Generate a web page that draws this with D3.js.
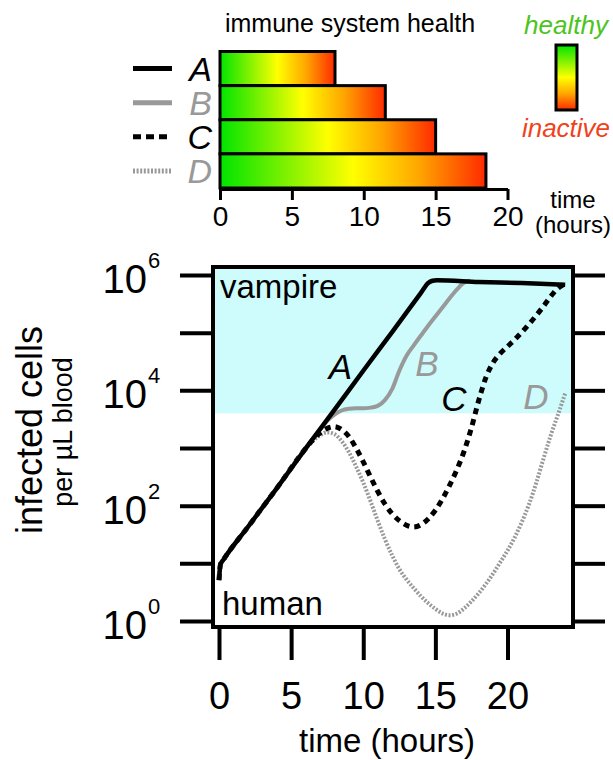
<!DOCTYPE html>
<html>
<head>
<meta charset="utf-8">
<script src="https://cdn.jsdelivr.net/npm/d3@7"></script>
<style>
  body { margin: 0; background: #fff; }
  svg text { font-family: "Liberation Sans", Arial, sans-serif; }
</style>
</head>
<body>
<div id="chart"></div>
<script>
// top panel: how long the immune system stays healthy
var barSeries = ["A", "B", "C", "D"];
var healthyHours = [8, 11.5, 15, 18.5];
var barTicks = [0, 5, 10, 15, 20];

// bottom panel: infected cells (log10 of cells per uL) over time
var timeTicks = [0, 5, 10, 15, 20];
var cellExps = [0, 1, 2, 3, 4, 5, 6];
var vampireLevel = 4000;

var timeA = [0, 0.1, 0.3, 2, 4, 6, 8, 10, 12, 14, 14.5, 14.8, 15.1, 18, 21, 24];
var logA  = [0.71, 0.98, 1.06, 1.63, 2.3, 2.99, 3.66, 4.34, 5.01, 5.69, 5.86, 5.9, 5.91, 5.88, 5.86, 5.83];

var timeB = [0, 0.1, 0.3, 2, 4, 6, 7, 7.5, 8, 8.5, 9, 9.5, 10, 10.5, 11, 11.5, 12, 12.5, 13, 13.5, 14, 14.5, 15, 15.5, 16, 16.5, 17, 17.4];
var logB  = [0.71, 0.98, 1.06, 1.63, 2.3, 2.99, 3.32, 3.47, 3.58, 3.65, 3.68, 3.69, 3.69, 3.7, 3.73, 3.83, 4.02, 4.34, 4.6, 4.78, 4.95, 5.12, 5.28, 5.44, 5.6, 5.75, 5.87, 5.9];

var timeC = [0, 0.1, 0.3, 2, 4, 6, 6.5, 7, 7.5, 8, 8.5, 9, 9.5, 10, 10.5, 11, 11.5, 12, 12.5, 13, 13.5, 14, 14.5, 15, 15.5, 16, 16.5, 17, 17.5, 18, 18.5, 19, 19.5, 20, 20.5, 21, 21.5, 22, 22.5, 23, 23.5, 24];
var logC  = [0.71, 0.98, 1.06, 1.63, 2.3, 2.99, 3.14, 3.26, 3.34, 3.37, 3.32, 3.2, 3.0, 2.76, 2.5, 2.25, 2.03, 1.86, 1.74, 1.66, 1.63, 1.67, 1.77, 1.92, 2.12, 2.36, 2.63, 2.95, 3.35, 3.82, 4.22, 4.48, 4.64, 4.76, 4.88, 5.01, 5.15, 5.3, 5.46, 5.63, 5.77, 5.85];

var timeD = [0, 0.1, 0.3, 2, 4, 6, 6.5, 7, 7.5, 8, 8.5, 9, 9.5, 10, 10.5, 11, 11.5, 12, 12.5, 13, 13.5, 14, 14.5, 15, 15.5, 16, 16.5, 17, 17.5, 18, 18.5, 19, 19.5, 20, 20.5, 21, 21.5, 22, 22.5, 23, 23.5, 24];
var logD  = [0.71, 0.98, 1.06, 1.63, 2.3, 2.99, 3.12, 3.22, 3.27, 3.24, 3.12, 2.93, 2.68, 2.4, 2.08, 1.74, 1.42, 1.14, 0.9, 0.72, 0.57, 0.43, 0.31, 0.21, 0.13, 0.1, 0.13, 0.22, 0.34, 0.48, 0.64, 0.82, 1.02, 1.22, 1.45, 1.72, 2.03, 2.4, 2.82, 3.22, 3.58, 3.95];

var gray = "#999999";
var styles = {
    A: { color: "#000", width: 4.5, dash: null, legendDash: null },
    B: { color: gray, width: 4, dash: null, legendDash: null },
    C: { color: "#000", width: 5, dash: "6,5", legendDash: "8,5" },
    D: { color: gray, width: 4, dash: "2,1.6", legendDash: "2,1.6" }
};

function init() {
    var w = 613, h = 760;
    var svg = d3.select("#chart").append("svg")
        .attr("width", w).attr("height", h);

    var defs = svg.append("defs");
    var hGrad = defs.append("linearGradient").attr("id", "healthH")
        .attr("x1", 0).attr("y1", 0).attr("x2", 1).attr("y2", 0);
    var vGrad = defs.append("linearGradient").attr("id", "healthV")
        .attr("x1", 0).attr("y1", 0).attr("x2", 0).attr("y2", 1);
    var stops = [[0, "#00e400"], [0.5, "#ffff00"], [0.75, "#ffa500"], [1, "#ff2a00"]];
    [hGrad, vGrad].forEach(function(g) {
        g.selectAll("stop").data(stops).enter().append("stop")
            .attr("offset", function(d) { return d[0]; })
            .attr("stop-color", function(d) { return d[1]; });
    });

    // ---------- top bar chart ----------
    var bx = d3.scaleLinear().domain([0, 20]).range([220, 507.5]);
    var by = d3.scaleBand().domain(barSeries).range([51.5, 188]);

    svg.append("text").attr("x", 350).attr("y", 32)
        .attr("text-anchor", "middle").attr("font-size", 25)
        .text("immune system health");

    svg.selectAll("rect.bar")
        .data(barSeries)
        .enter()
        .append("rect")
        .attr("class", "bar")
        .attr("x", bx(0))
        .attr("y", function(d) { return by(d); })
        .attr("width", function(d, i) { return bx(healthyHours[i]) - bx(0); })
        .attr("height", by.bandwidth())
        .attr("fill", "url(#healthH)")
        .attr("stroke", "#000")
        .attr("stroke-width", 3);

    var topAxis = svg.append("g")
        .attr("transform", "translate(0,189)")
        .call(d3.axisBottom(bx).tickValues(barTicks).tickSize(11).tickPadding(6).tickSizeOuter(0));
    topAxis.select(".domain").attr("stroke-width", 3);
    topAxis.selectAll(".tick line").attr("stroke-width", 3);
    topAxis.selectAll(".tick text").attr("font-size", 28).attr("fill", "#000")
        .attr("font-family", "Liberation Sans, Arial, sans-serif");

    // legend keys on the left
    var keys = svg.selectAll("g.key").data(barSeries).enter().append("g")
        .attr("class", "key")
        .attr("transform", function(d) { return "translate(0," + (by(d) + by.bandwidth() / 2) + ")"; });
    keys.append("line")
        .attr("x1", 133).attr("x2", 172).attr("y1", 0).attr("y2", 0)
        .attr("stroke", function(d) { return styles[d].color; })
        .attr("stroke-width", 5)
        .attr("stroke-dasharray", function(d) { return styles[d].legendDash; });
    keys.append("text")
        .attr("x", 212).attr("y", 12)
        .attr("text-anchor", "end")
        .attr("font-size", 34).attr("font-style", "italic")
        .attr("fill", function(d) { return styles[d].color; })
        .text(function(d) { return d; });

    // colour key on the right
    svg.append("text").attr("x", 566).attr("y", 34).attr("text-anchor", "middle")
        .attr("font-size", 26).attr("font-style", "italic").attr("fill", "#4cc41e")
        .text("healthy");
    svg.append("rect").attr("x", 556).attr("y", 45).attr("width", 21).attr("height", 65)
        .attr("fill", "url(#healthV)").attr("stroke", "#000").attr("stroke-width", 3);
    svg.append("text").attr("x", 566).attr("y", 137).attr("text-anchor", "middle")
        .attr("font-size", 26).attr("font-style", "italic").attr("fill", "#f0421c")
        .text("inactive");
    svg.append("text").attr("x", 573).attr("y", 208).attr("text-anchor", "middle")
        .attr("font-size", 24).text("time");
    svg.append("text").attr("x", 573).attr("y", 233).attr("text-anchor", "middle")
        .attr("font-size", 24).text("(hours)");

    // ---------- bottom line chart ----------
    var box = { left: 213, right: 573, top: 267, bottom: 627 };
    var x = d3.scaleLinear().domain([0, 20]).range([219, 507.5]);
    var y = d3.scaleLog().domain([1, 1e6]).range([621, 275]);

    svg.append("rect").attr("x", box.left).attr("y", box.top)
        .attr("width", box.right - box.left).attr("height", y(vampireLevel) - box.top)
        .attr("fill", "#cefcfd");

    var series = [
        { name: "D", t: timeD, v: logD },
        { name: "C", t: timeC, v: logC },
        { name: "B", t: timeB, v: logB },
        { name: "A", t: timeA, v: logA }
    ];
    var line = d3.line()
        .x(function(d) { return x(d[0]); })
        .y(function(d) { return y(Math.pow(10, d[1])); })
        .curve(d3.curveMonotoneX);

    svg.selectAll("path.curve")
        .data(series)
        .enter()
        .append("path")
        .attr("class", "curve")
        .attr("d", function(s) { return line(s.t.map(function(t, i) { return [t, s.v[i]]; })); })
        .attr("fill", "none")
        .attr("stroke", function(s) { return styles[s.name].color; })
        .attr("stroke-width", function(s) { return styles[s.name].width; })
        .attr("stroke-dasharray", function(s) { return styles[s.name].dash; });

    svg.append("rect").attr("x", box.left).attr("y", box.top)
        .attr("width", box.right - box.left).attr("height", box.bottom - box.top)
        .attr("fill", "none").attr("stroke", "#000").attr("stroke-width", 4);

    var yTicks = cellExps.map(function(e) { return Math.pow(10, e); });
    var leftAxis = svg.append("g").attr("transform", "translate(" + box.left + ",0)")
        .call(d3.axisLeft(y).tickValues(yTicks).tickSize(33).tickFormat(""));
    var rightAxis = svg.append("g").attr("transform", "translate(" + box.right + ",0)")
        .call(d3.axisRight(y).tickValues(yTicks).tickSize(32).tickFormat(""));
    var bottomAxis = svg.append("g").attr("transform", "translate(0," + box.bottom + ")")
        .call(d3.axisBottom(x).tickValues(timeTicks).tickSize(33).tickPadding(22));
    [leftAxis, rightAxis, bottomAxis].forEach(function(a) {
        a.select(".domain").remove();
        a.selectAll(".tick line").attr("stroke-width", 4);
    });
    bottomAxis.selectAll(".tick text").attr("font-size", 38).attr("fill", "#000")
        .attr("font-family", "Liberation Sans, Arial, sans-serif");

    // power-of-ten labels
    var even = cellExps.filter(function(e) { return e % 2 === 0; });
    var labels = svg.selectAll("g.ylab").data(even).enter().append("g")
        .attr("class", "ylab")
        .attr("transform", function(e) { return "translate(147," + y(Math.pow(10, e)) + ")"; });
    labels.append("text").attr("x", 0).attr("y", 18).attr("text-anchor", "end")
        .attr("font-size", 40).text("10");
    labels.append("text").attr("x", 1).attr("y", -7)
        .attr("font-size", 22).text(function(e) { return e; });

    svg.append("text").attr("transform", "translate(42,430) rotate(-90)")
        .attr("text-anchor", "middle").attr("font-size", 36).text("infected cells");
    svg.append("text").attr("transform", "translate(72,432) rotate(-90)")
        .attr("text-anchor", "middle").attr("font-size", 27).text("per \u00b5L blood");
    svg.append("text").attr("x", 387).attr("y", 752).attr("text-anchor", "middle")
        .attr("font-size", 33).text("time (hours)");

    svg.append("text").attr("x", 220).attr("y", 298).attr("font-size", 33).text("vampire");
    svg.append("text").attr("x", 222).attr("y", 615).attr("font-size", 33).text("human");

    var curveLabels = [
        { name: "A", x: 7.6, e: 4.2 },
        { name: "B", x: 13.6, e: 4.25 },
        { name: "C", x: 15.4, e: 3.65 },
        { name: "D", x: 21.1, e: 3.68 }
    ];
    svg.selectAll("text.clab").data(curveLabels).enter().append("text")
        .attr("class", "clab")
        .attr("x", function(d) { return x(d.x); })
        .attr("y", function(d) { return y(Math.pow(10, d.e)); })
        .attr("font-size", 35).attr("font-style", "italic")
        .attr("fill", function(d) { return styles[d.name].color; })
        .text(function(d) { return d.name; });
}

window.onload = init;
</script>
</body>
</html>
